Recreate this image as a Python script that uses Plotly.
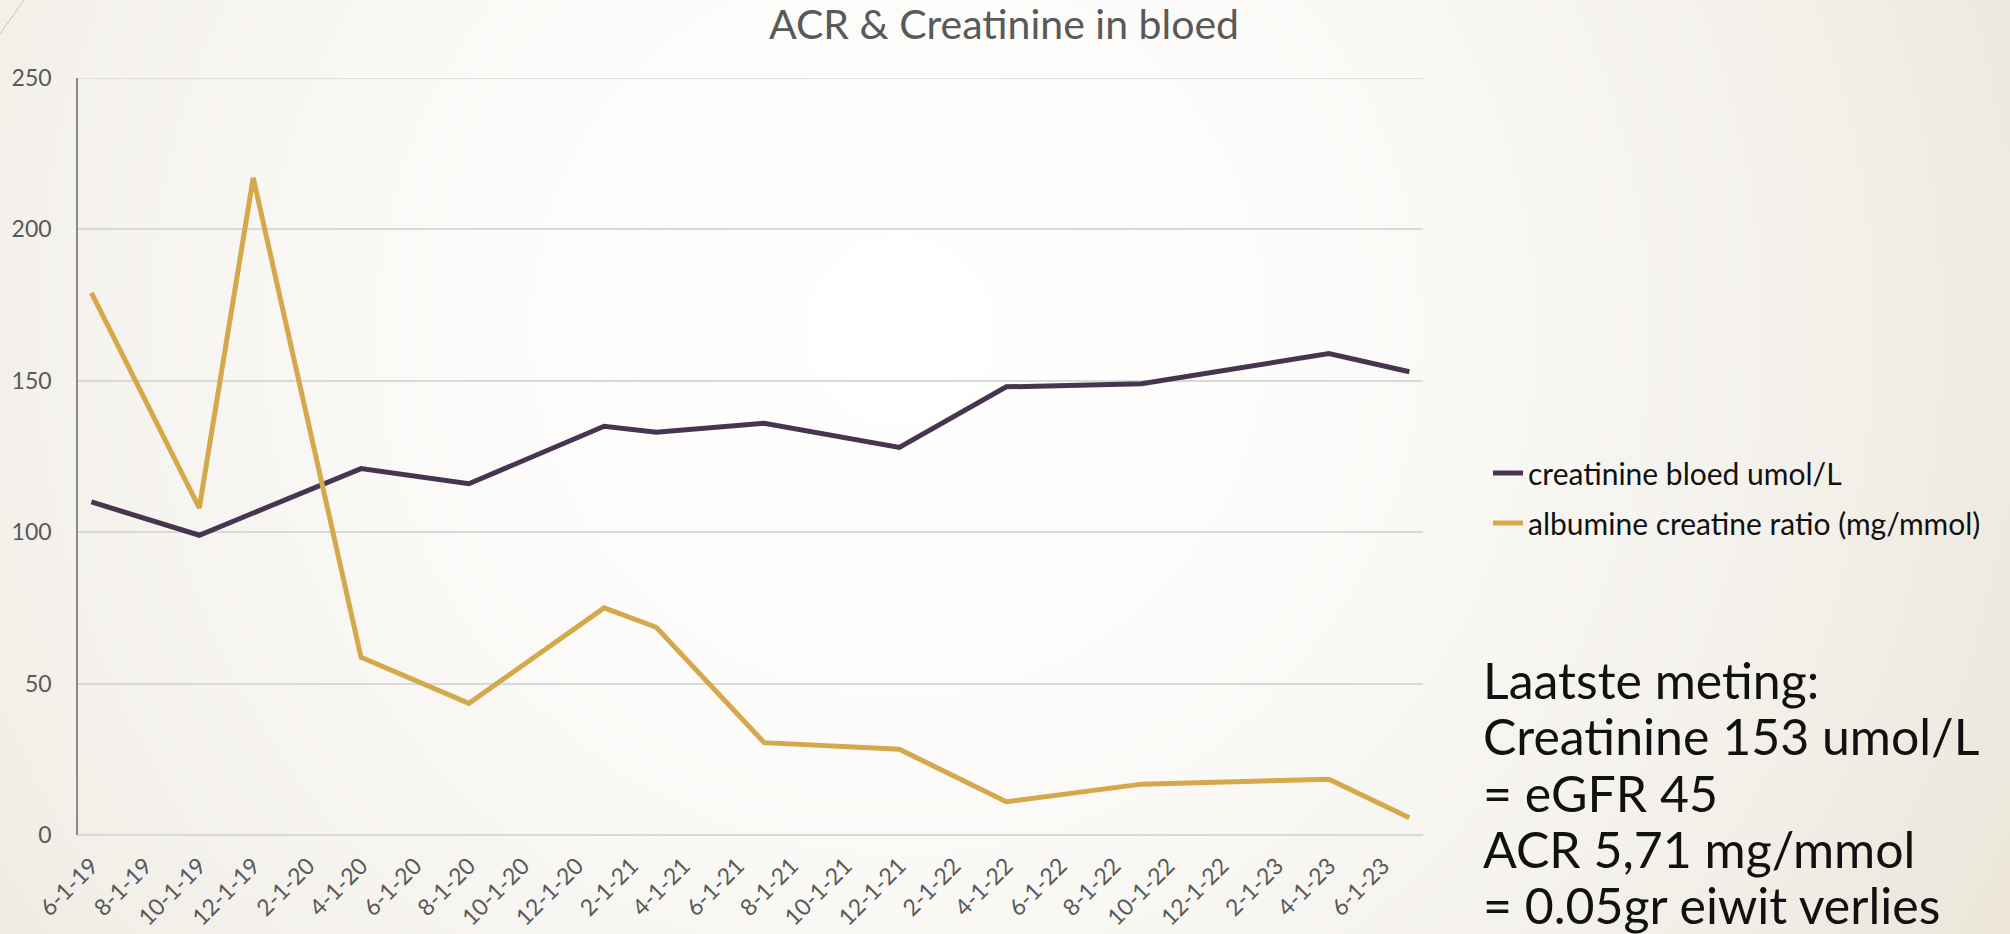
import base64
import plotly.graph_objects as go

# ---------------- data ----------------
dates = ["2019-06-01", "2019-10-01", "2019-12-01", "2020-04-01", "2020-08-01",
         "2021-01-01", "2021-03-01", "2021-07-01", "2021-12-01", "2022-04-01",
         "2022-09-01", "2023-04-01", "2023-07-01"]
creatinine = [110, 99, None, 121, 116, 135, 133, 136, 128, 148, 149, 159, 153]
acr = [179, 108, 217, 58.7, 43.5, 75, 68.6, 30.5, 28.3, 11, 16.8, 18.4, 5.71]

series_names = ["creatinine bloed umol/L", "albumine creatine ratio (mg/mmol)"]
title_text = "ACR & Creatinine in bloed"
note_lines = ["Laatste meting:", "Creatinine 153 umol/L", "= eGFR 45",
              "ACR 5,71 mg/mmol", "= 0.05gr eiwit verlies"]

# ---------------- layout geometry ----------------
W, H = 2010, 934
L, R, T, B = 78, 2010 - 1423, 78, 934 - 835
PW, PH = W - L - R, H - T - B


def px(x):
    return (x - L) / PW


def py(y):
    return (H - B - y) / PH


FONT = "Lato"
PURPLE = "#47344f"
GOLD = "#d4a84b"

svg = f'''<svg xmlns="http://www.w3.org/2000/svg" width="{W}" height="{H}" viewBox="0 0 {W} {H}" preserveAspectRatio="none">
<defs><radialGradient id="g" cx="900" cy="330" r="1250" gradientUnits="userSpaceOnUse">
<stop offset="0" stop-color="#ffffff"/>
<stop offset="0.35" stop-color="#fcfbf9"/>
<stop offset="0.75" stop-color="#f3f0ea"/>
<stop offset="1" stop-color="#ece6da"/>
</radialGradient></defs>
<rect x="0" y="0" width="{W}" height="{H}" fill="url(#g)"/>
</svg>'''
bg_uri = "data:image/svg+xml;base64," + base64.b64encode(svg.encode()).decode()

fig = go.Figure()
fig.add_trace(go.Scatter(x=dates, y=creatinine, mode="lines", name=series_names[0],
                         connectgaps=True, legendgroup="a",
                         line=dict(color=PURPLE, width=5)))
fig.add_trace(go.Scatter(x=dates, y=acr, mode="lines", name=series_names[1],
                         connectgaps=True, legendgroup="b",
                         line=dict(color=GOLD, width=5)))

annotations = []
y0 = 680
for i, line in enumerate(note_lines):
    annotations.append(dict(text=line, xref="paper", yref="paper",
                            x=px(1481), y=py(y0 + i * 56.3), xanchor="left", yanchor="middle",
                            showarrow=False, font=dict(family=FONT, size=50, color="#111111")))

fig.update_layout(
    width=W, height=H,
    margin=dict(l=L, r=R, t=T, b=B, autoexpand=False),
    paper_bgcolor="#f4f1eb",
    plot_bgcolor="rgba(0,0,0,0)",
    font=dict(family=FONT, color="#595959"),
    title=dict(text=title_text, x=1004 / W, xanchor="center", xref="container",
               y=1 - 25 / H, yanchor="middle", yref="container",
               font=dict(family=FONT, size=41, color="#595959")),
    xaxis=dict(type="date", range=["2019-05-16 19:00", "2023-07-16 10:00"],
               tick0="2019-06-01", dtick="M2", tickformat="%-m-%-d-%y",
               tickangle=-45, tickfont=dict(family=FONT, size=23, color="#595959"),
               showgrid=False, showline=False, zeroline=False, ticks="",
               ticklabelstandoff=12, automargin=False),
    yaxis=dict(range=[0, 250], dtick=50, tickfont=dict(family=FONT, size=23, color="#595959"),
               showgrid=True, gridcolor="#d9d9d9", gridwidth=1.5,
               showline=True, linecolor="#8a8a8a", linewidth=1.5,
               zeroline=True, zerolinecolor="#d9d9d9", zerolinewidth=1.5,
               ticks="", ticklabelstandoff=20, automargin=False),
    legend=dict(x=px(1488), y=py(498), xanchor="left", yanchor="middle",
                xref="paper", yref="paper", bgcolor="rgba(0,0,0,0)",
                font=dict(family=FONT, size=30, color="#111111"),
                tracegroupgap=8, itemwidth=30),
    showlegend=True,
    annotations=annotations,
    images=[dict(source=bg_uri, xref="paper", yref="paper", x=px(0), y=py(0),
                 sizex=W / PW, sizey=H / PH, sizing="stretch",
                 xanchor="left", yanchor="top", layer="below")],
    shapes=[dict(type="line", xref="paper", yref="paper",
                 x0=px(0), y0=py(34), x1=px(24), y1=py(0),
                 line=dict(color="#c9c4ba", width=1)),
            dict(type="line", xref="paper", yref="y", x0=0, x1=1, y0=250, y1=250,
                 layer="below", line=dict(color="#d9d9d9", width=1.5))],
)

fig.write_html("out.html", config={"displayModeBar": False},
               post_script="document.body.style.margin='0';document.body.style.overflow='hidden';")
